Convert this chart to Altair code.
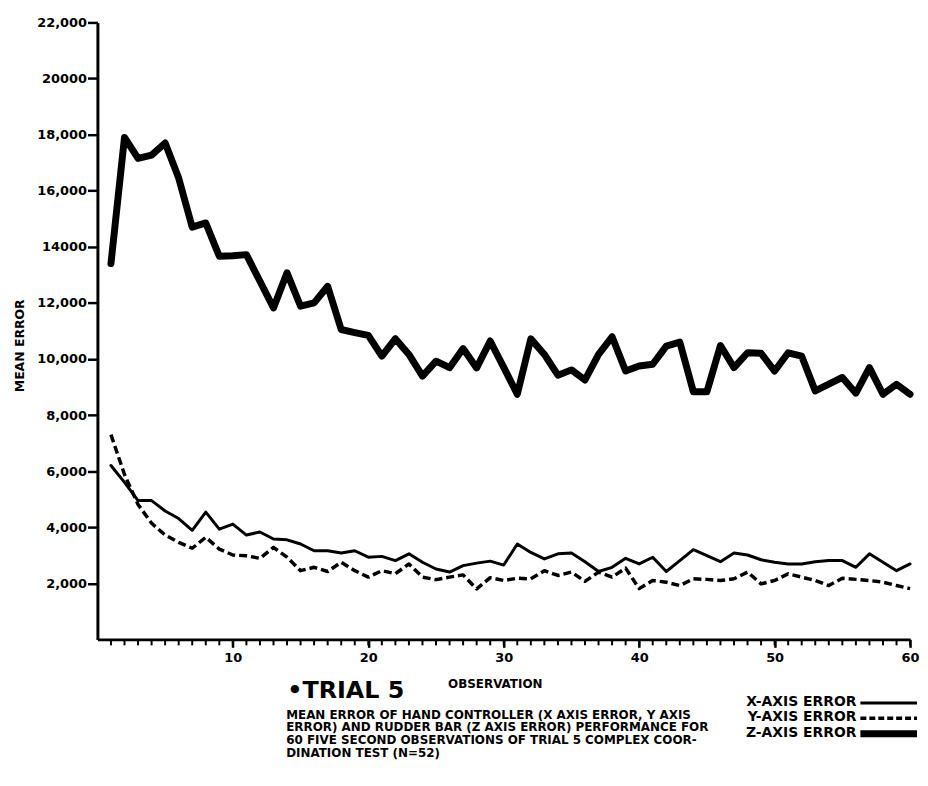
import altair as alt
import pandas as pd

# ---------------- data ----------------
obs = list(range(1, 61))

x_err = [6200, 5600, 4950, 4950, 4580, 4310, 3890, 4540, 3930, 4110,
         3720, 3830, 3580, 3550, 3400, 3160, 3160, 3080, 3160, 2930,
         2960, 2810, 3050, 2750, 2510, 2400, 2630, 2720, 2790, 2650,
         3400, 3100, 2870, 3050, 3080, 2770, 2420, 2570, 2890, 2690,
         2930, 2420, 2810, 3200, 2990, 2770, 3080, 3010, 2840, 2750,
         2690, 2690, 2770, 2810, 2810, 2570, 3050, 2750, 2450, 2690]

y_err = [7300, 5880, 4810, 4140, 3720, 3460, 3250, 3640, 3220, 3010,
         2980, 2890, 3280, 2930, 2450, 2570, 2420, 2750, 2450, 2220,
         2450, 2340, 2690, 2220, 2130, 2220, 2300, 1800, 2200, 2100,
         2180, 2160, 2450, 2280, 2400, 2070, 2400, 2220, 2540, 1810,
         2100, 2040, 1920, 2160, 2140, 2100, 2160, 2400, 1980, 2100,
         2340, 2220, 2100, 1920, 2180, 2140, 2100, 2040, 1920, 1810]

z_err = [13400, 17900, 17150, 17270, 17700, 16450, 14700, 14850, 13660, 13680,
         13720, 12770, 11820, 13070, 11880, 12000, 12590, 11050, 10940, 10840,
         10100, 10720, 10160, 9390, 9920, 9690, 10370, 9680, 10640, 9700,
         8740, 10720, 10160, 9420, 9610, 9250, 10160, 10790, 9570, 9750,
         9810, 10460, 10600, 8830, 8830, 10480, 9690, 10220, 10200, 9570,
         10220, 10100, 8860, 9100, 9340, 8780, 9690, 8740, 9100, 8740]

y_tick_values = [2000, 4000, 6000, 8000, 10000, 12000, 14000, 16000, 18000, 20000, 22000]
y_tick_labels = ["2,000", "4,000", "6,000", "8,000", "10,000", "12,000", "14000",
                 "16,000", "18,000", "20000", "22,000"]
x_tick_values = [10, 20, 30, 40, 50, 60]
x_tick_labels = ["10", "20", "30", "40", "50", "60"]

series_names = ["X-AXIS ERROR", "Y-AXIS ERROR", "Z-AXIS ERROR"]
trial_label = "\u2022TRIAL 5"
caption_lines = [
    "MEAN ERROR OF HAND CONTROLLER (X AXIS ERROR, Y AXIS",
    "ERROR) AND RUDDER BAR (Z AXIS ERROR) PERFORMANCE FOR",
    "60 FIVE SECOND OBSERVATIONS OF TRIAL 5 COMPLEX COOR-",
    "DINATION TEST (N=52)",
]
x_title = "OBSERVATION"
y_title = "MEAN ERROR"

# ---------------- build ----------------
W, H = 818, 621
FONT = "DejaVu Sans"


def label_expr(values, labels):
    expr = "''"
    for v, l in zip(reversed(values), reversed(labels)):
        expr = f"datum.value == {v} ? '{l}' : ({expr})"
    return expr


df = pd.DataFrame({
    "obs": obs * 3,
    "err": x_err + y_err + z_err,
    "series": [series_names[0]] * 60 + [series_names[1]] * 60 + [series_names[2]] * 60,
})

xscale = alt.Scale(domain=[0, 60], nice=False, zero=False)
yscale = alt.Scale(domain=[0, 22000], nice=False)

x_axis = alt.Axis(
    values=x_tick_values, labelExpr=label_expr(x_tick_values, x_tick_labels),
    tickSize=8, tickWidth=2.5, tickColor="black", domainWidth=3, domainColor="black",
    labelFont=FONT, labelFontWeight="bold", labelFontSize=13, labelColor="black",
    labelPadding=4, labelFlush=False, grid=False,
    title=x_title, titleFont=FONT, titleFontWeight="bold", titleFontSize=12,
    titleColor="black", titlePadding=14, titleX=400,
)
y_axis = alt.Axis(
    values=y_tick_values, labelExpr=label_expr(y_tick_values, y_tick_labels),
    tickSize=10, tickWidth=2.5, tickColor="black", domainWidth=3, domainColor="black",
    labelFont=FONT, labelFontWeight="bold", labelFontSize=13, labelColor="black",
    labelPadding=1, labelFlush=False, grid=False,
    title=y_title, titleFont=FONT, titleFontWeight="bold", titleFontSize=12.5,
    titleColor="black", titleAngle=270, titleX=-78, titleY=325,
    titleAlign="center", titleBaseline="middle",
)

X = alt.X("obs:Q", scale=xscale, axis=x_axis)
Y = alt.Y("err:Q", scale=yscale, axis=y_axis)

base = alt.Chart(df)


def series_line(name, width, dash=None):
    kw = dict(color="black", strokeWidth=width, strokeJoin="round", strokeCap="round")
    if dash:
        kw["strokeDash"] = dash
        kw["strokeCap"] = "butt"
    return base.transform_filter(alt.datum.series == name).mark_line(**kw).encode(x=X, y=Y)


x_line = series_line(series_names[0], 3)
y_line = series_line(series_names[1], 3.5, [8, 4])
z_line = series_line(series_names[2], 7)

minor_ticks = alt.Chart(pd.DataFrame({"obs": obs})).mark_tick(
    orient="vertical", size=6, thickness=2, color="black", opacity=1
).encode(
    x=X,
    y=alt.value(H + 3),
)

trial = alt.Chart(pd.DataFrame({"t": [trial_label]})).mark_text(
    font=FONT, fontWeight="bold", fontSize=24, align="left", baseline="middle", color="black"
).encode(text="t:N", x=alt.value(191), y=alt.value(673))

caption = alt.Chart(pd.DataFrame({"t": ["\n".join(caption_lines)]})).mark_text(
    font=FONT, fontWeight="bold", fontSize=12, align="left", baseline="top",
    lineBreak="\n", lineHeight=12.7, color="black"
).encode(text="t:N", x=alt.value(190), y=alt.value(692))

legend_layers = []
legend_styles = [(3, None), (3.5, [6, 3]), (7, None)]
for i, (name, (w, dash)) in enumerate(zip(series_names, legend_styles)):
    yy = 684 + 15.5 * i
    legend_layers.append(
        alt.Chart(pd.DataFrame({"t": [name]})).mark_text(
            font=FONT, fontWeight="bold", fontSize=14, align="right", baseline="middle",
            color="black"
        ).encode(text="t:N", x=alt.value(764), y=alt.value(yy))
    )
    rkw = dict(color="black", strokeWidth=w)
    if dash:
        rkw["strokeDash"] = dash
    legend_layers.append(
        alt.Chart(pd.DataFrame({"t": [name]})).mark_rule(**rkw).encode(
            x=alt.value(768), x2=alt.value(825), y=alt.value(yy + 1)
        )
    )

chart = alt.layer(
    x_line, y_line, z_line, minor_ticks, trial, caption, *legend_layers
).properties(
    width=W, height=H,
    autosize=alt.AutoSizeParams(type="none"),
    padding={"left": 90, "top": 12, "right": 10, "bottom": 137},
    background="white",
).configure_view(stroke=None)

chart.save("out.html", embed_options={"renderer": "svg", "actions": False})
